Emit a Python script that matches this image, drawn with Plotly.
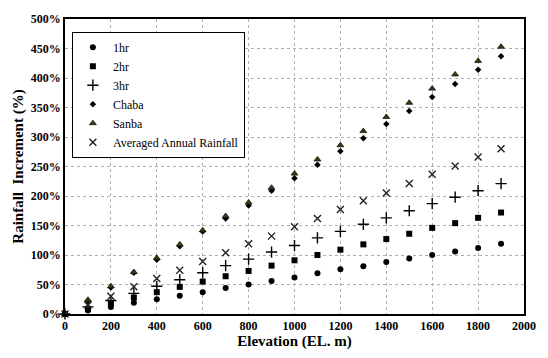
import plotly.graph_objects as go

elev = [0, 100, 200, 300, 400, 500, 600, 700, 800, 900, 1000,
        1100, 1200, 1300, 1400, 1500, 1600, 1700, 1800, 1900]
hr1 = [0, 6, 12, 19, 25, 31, 37, 44, 50, 56, 62, 69, 76, 81, 88, 94, 100, 106, 112, 119]
hr2 = [0, 9, 18, 28, 37, 46, 55, 64, 73, 82, 91, 100, 109, 118, 127, 136, 146, 154, 163, 172]
hr3 = [0, 12, 23, 35, 47, 58, 70, 82, 93, 105, 116, 129, 140, 152, 163, 175, 187, 198, 209, 221]
chaba = [0, 22, 45, 70, 92, 115, 140, 162, 184, 209, 230, 253, 276, 298, 322, 344, 368, 390, 414, 437]
sanba = [0, 24, 47, 71, 95, 118, 142, 166, 189, 214, 238, 262, 286, 310, 334, 358, 382, 406, 429, 453]
annual = [0, 15, 30, 46, 60, 74, 89, 104, 119, 132, 148, 162, 177, 192, 205, 221, 237, 251, 266, 280]

x_ticks = list(range(0, 2001, 200))
y_ticks = list(range(0, 501, 50))
x_labels = [f"<b>{v}</b>" for v in x_ticks]
y_labels = [f"<b>{v}%</b>" for v in y_ticks]

series = [
    ("1hr", hr1, dict(symbol="circle", size=6, color="black")),
    ("2hr", hr2, dict(symbol="square", size=6, color="black")),
    ("3hr", hr3, dict(symbol="cross-thin", size=8, color="black", line=dict(width=1.4, color="black"))),
    ("Chaba", chaba, dict(symbol="diamond", size=5, color="black")),
    ("Sanba", sanba, dict(symbol="triangle-up", size=6, color="#34420c", line=dict(width=0.8, color="#111111"))),
    ("Averaged Annual Rainfall", annual, dict(symbol="x-thin", size=7, color="#222222", line=dict(width=1.4, color="#222222"))),
]

fig = go.Figure()
for name, vals, mk in series:
    fig.add_trace(go.Scatter(x=elev, y=vals, mode="markers", name=name, marker=mk, cliponaxis=False))

font = "Liberation Serif"
fig.update_layout(
    width=548, height=358,
    margin=dict(l=65, r=14, t=14, b=42),
    paper_bgcolor="white", plot_bgcolor="white",
    font=dict(family=font, color="black", size=12),
    showlegend=True,
    legend=dict(x=0.015, y=0.957, xanchor="left", yanchor="top",
                bordercolor="black", borderwidth=1, bgcolor="white",
                font=dict(family=font, size=12, color="black"), itemwidth=30),
    xaxis=dict(range=[0, 2000], tickmode="array", tickvals=x_ticks, ticktext=x_labels,
               showgrid=True, gridcolor="#b0b0b0", griddash="dot", gridwidth=1,
               showline=True, linecolor="black", linewidth=1.5, mirror=True,
               zeroline=False, ticks="",
               tickfont=dict(family=font, size=12, color="black"),
               title=dict(text="<b>Elevation (EL. m)</b>", font=dict(family=font, size=15, color="black"), standoff=2)),
    yaxis=dict(range=[0, 500], tickmode="array", tickvals=y_ticks, ticktext=y_labels,
               showgrid=True, gridcolor="#b0b0b0", griddash="dot", gridwidth=1,
               showline=True, linecolor="black", linewidth=1.5, mirror=True,
               zeroline=False, ticks="",
               tickfont=dict(family=font, size=12, color="black"),
               title=dict(text="<b>Rainfall  Increment (%)</b>", font=dict(family=font, size=15, color="black"), standoff=4)),
)

fig.write_html("out.html")
